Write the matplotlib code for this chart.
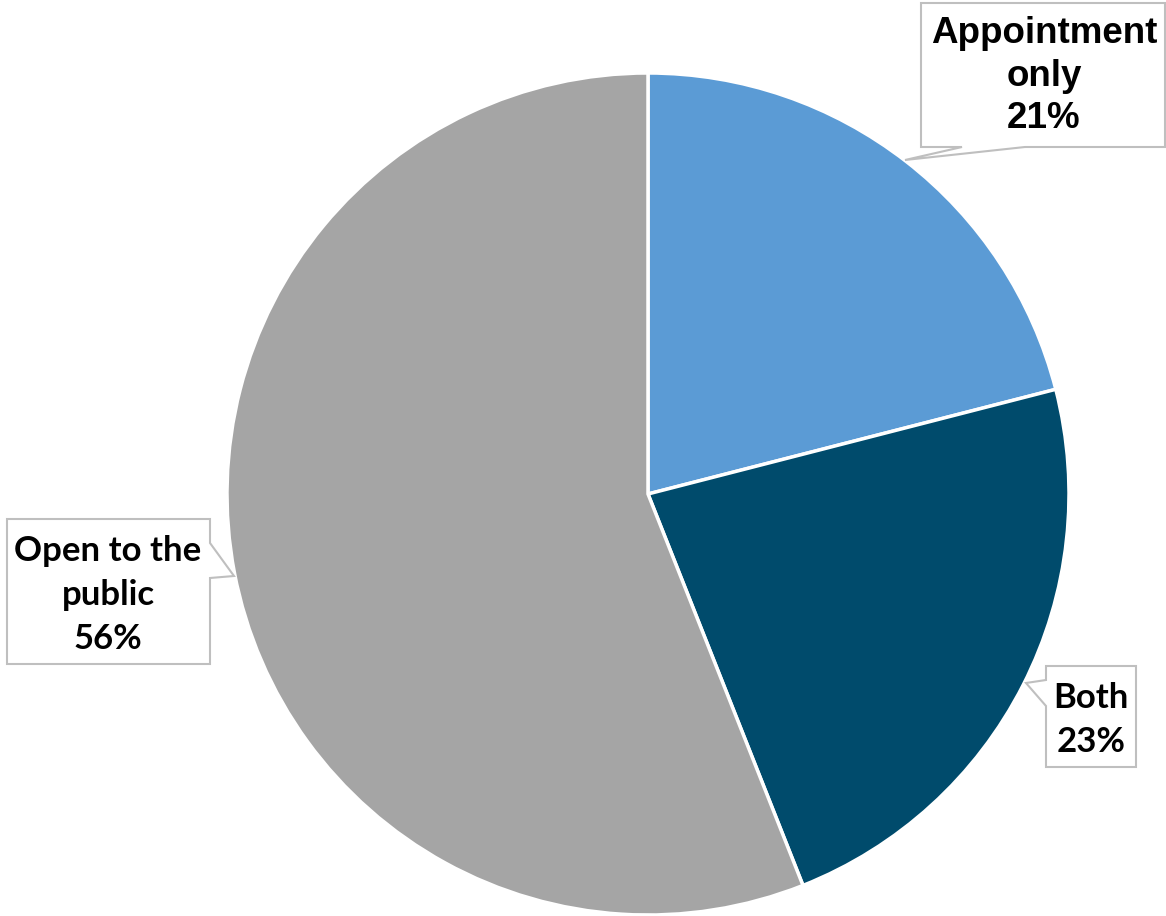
import matplotlib.pyplot as plt
from matplotlib.patches import Polygon

# Share of sites by access type
labels = ["Appointment only", "Both", "Open to the public"]
shares = [21, 23, 56]
colors = ["#5B9BD5", "#004B6C", "#A5A5A5"]

W, H = 1166, 916
fig = plt.figure(figsize=(W / 100, H / 100), dpi=100)
ax = fig.add_axes([0, 0, 1, 1])


def py(y):
    # pixel row (top-down) to axis y (bottom-up)
    return H - y


ax.pie(shares, colors=colors, startangle=90, counterclock=False,
       center=(648, py(494)), radius=421,
       wedgeprops=dict(edgecolor="white", linewidth=2.5))

# pie() rescales the axes, so fix the frame afterwards
ax.set_xlim(0, W)
ax.set_ylim(0, H)
ax.set_aspect("equal")
ax.axis("off")


def callout(x0, y0, x1, y1, side, p0, p1, tip):
    # rectangle callout with a wedge pointer on one side
    tl, tr, br, bl = (x0, y0), (x1, y0), (x1, y1), (x0, y1)
    if side == "bottom":
        pts = [tl, tr, br, (p1, y1), tip, (p0, y1), bl]
    elif side == "right":
        pts = [tl, tr, (x1, p0), tip, (x1, p1), br, bl]
    else:  # left
        pts = [tl, tr, br, bl, (x0, p1), tip, (x0, p0)]
    pts = [(x, py(y)) for x, y in pts]
    ax.add_patch(Polygon(pts, closed=True, facecolor="white",
                         edgecolor="#BFBFBF", linewidth=1.5, zorder=5))


callout(921, 3, 1165, 147, "bottom", 962, 1025, (905, 160))
callout(7, 519, 210, 664, "right", 543, 578, (234, 576))
callout(1046, 666, 1136, 767, "left", 680, 706, (1026, 683))

ax.text(1044, py(76), f"{labels[0].replace(' ', chr(10))}\n{shares[0]}%",
        ha="center", va="center", fontsize=26.5, fontweight="bold",
        family="Liberation Sans", linespacing=1.28, zorder=6)
ax.text(108, py(595), f"Open to the\npublic\n{shares[2]}%",
        ha="center", va="center", fontsize=25, fontweight="bold",
        family="Lato", linespacing=1.45, zorder=6)
ax.text(1091, py(720), f"{labels[1]}\n{shares[1]}%",
        ha="center", va="center", fontsize=25, fontweight="bold",
        family="Lato", linespacing=1.5, zorder=6)

plt.savefig("out.png", dpi=100)
